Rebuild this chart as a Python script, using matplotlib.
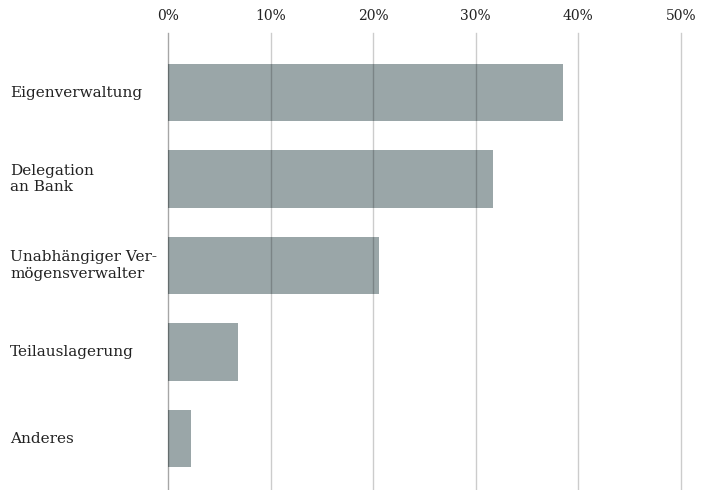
import matplotlib.pyplot as plt
import matplotlib.transforms as mtransforms

# Anteile je Verwaltungsform (in %)
categories = ["Eigenverwaltung", "Delegation\nan Bank", "Unabhängiger Ver-\nmögensverwalter",
              "Teilauslagerung", "Anderes"]
shares = [38.5, 31.7, 20.6, 6.8, 2.2]
ticks = [0, 10, 20, 30, 40, 50]
tick_labels = ["0%", "10%", "20%", "30%", "40%", "50%"]

plt.rcParams['font.family'] = ['DejaVu Serif']

fig = plt.figure(figsize=(7.08, 4.9), dpi=100)
ax = fig.add_axes([168 / 708, 0.0, (681 - 168) / 708, 1 - 33 / 490])

pos = list(range(len(categories)))
ax.barh(pos, shares, height=0.66, color='#9aa6a8', zorder=1)

# vertical grid drawn above the bars, semi-transparent
for t in ticks:
    a = 0.35 if t == 0 else 0.2
    ax.axvline(t, color='black', alpha=a, lw=1, zorder=2, clip_on=False)

ax.set_xlim(0, 50)
ax.set_ylim(4.595, -0.688)
ax.xaxis.tick_top()
ax.set_xticks(ticks)
ax.set_xticklabels(tick_labels, fontsize=10, color='#222222')
ax.tick_params(axis='x', length=0, pad=7)
ax.set_yticks([])
for s in ax.spines.values():
    s.set_visible(False)

trans = mtransforms.blended_transform_factory(fig.transFigure, ax.transData)
for p, lab in zip(pos, categories):
    ax.text(10 / 708, p, lab, transform=trans, ha='left', va='center',
            fontsize=11, color='#222222', linespacing=1.2)

fig.savefig('out.png', dpi=100)
